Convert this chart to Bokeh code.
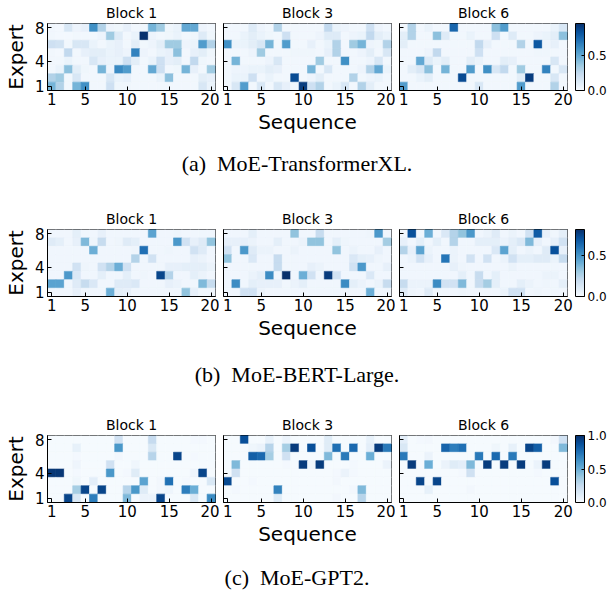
from bokeh.plotting import figure
from bokeh.models import (LinearColorMapper, ColorBar, FixedTicker, ColumnDataSource,
                          Div, Range1d, PrintfTickFormatter)
from bokeh.layouts import column, row
from bokeh.palettes import Blues256
from bokeh.transform import transform
from bokeh.embed import file_html
from bokeh.resources import INLINE

sequence = list(range(1, 21))
experts = [8, 7, 6, 5, 4, 3, 2, 1]   # rows below are listed top (expert 8) to bottom (expert 1)
x_ticks = [1, 5, 10, 15, 20]
y_ticks = [1, 4, 8]
block_titles = ["Block 1", "Block 3", "Block 6"]
captions = ["(a)&nbsp; MoE-TransformerXL.", "(b)&nbsp; MoE-BERT-Large.", "(c)&nbsp; MoE-GPT2."]
row_vmax = [0.95, 0.82, 1.0]
cb_ticks = [[0.0, 0.5], [0.0, 0.5], [0.0, 0.5, 1.0]]

# ---------------- MoE-TransformerXL ----------------
txl_block1 = [
    [0.03,0.02,0.15,0.05,0.08,0.60,0.30,0.05,0.04,0.08,0.03,0.04,0.45,0.35,0.04,0.06,0.50,0.50,0.05,0.03],
    [0.03,0.02,0.02,0.03,0.03,0.03,0.05,0.35,0.12,0.03,0.06,0.94,0.05,0.03,0.04,0.06,0.03,0.04,0.12,0.04],
    [0.20,0.18,0.03,0.15,0.15,0.06,0.03,0.06,0.08,0.03,0.10,0.03,0.05,0.10,0.35,0.35,0.05,0.06,0.55,0.30],
    [0.03,0.02,0.25,0.03,0.08,0.10,0.10,0.06,0.08,0.05,0.65,0.05,0.03,0.06,0.08,0.40,0.03,0.08,0.10,0.04],
    [0.03,0.03,0.06,0.03,0.03,0.15,0.08,0.06,0.06,0.20,0.10,0.03,0.06,0.20,0.08,0.10,0.03,0.25,0.04,0.03],
    [0.03,0.06,0.40,0.10,0.04,0.03,0.45,0.05,0.62,0.55,0.03,0.03,0.50,0.20,0.03,0.04,0.45,0.08,0.03,0.35],
    [0.30,0.35,0.03,0.15,0.03,0.03,0.03,0.15,0.06,0.08,0.03,0.03,0.03,0.06,0.40,0.03,0.03,0.03,0.10,0.08],
    [0.45,0.30,0.03,0.45,0.60,0.03,0.03,0.20,0.04,0.04,0.03,0.03,0.03,0.03,0.03,0.03,0.03,0.03,0.15,0.06],
]
txl_block3 = [
    [0.03,0.03,0.03,0.12,0.05,0.03,0.30,0.03,0.03,0.03,0.03,0.03,0.25,0.06,0.05,0.03,0.03,0.20,0.05,0.03],
    [0.03,0.03,0.06,0.10,0.06,0.04,0.03,0.20,0.03,0.03,0.03,0.05,0.12,0.12,0.03,0.05,0.06,0.25,0.10,0.06],
    [0.60,0.06,0.06,0.10,0.15,0.45,0.03,0.55,0.03,0.03,0.08,0.03,0.06,0.30,0.03,0.35,0.45,0.05,0.04,0.30],
    [0.03,0.03,0.03,0.05,0.35,0.03,0.03,0.03,0.04,0.04,0.04,0.03,0.08,0.30,0.03,0.03,0.05,0.10,0.03,0.15],
    [0.03,0.45,0.03,0.03,0.03,0.05,0.15,0.03,0.03,0.03,0.03,0.35,0.03,0.03,0.60,0.03,0.03,0.05,0.15,0.03],
    [0.03,0.05,0.05,0.06,0.06,0.10,0.08,0.03,0.03,0.03,0.45,0.03,0.15,0.03,0.03,0.03,0.05,0.30,0.50,0.06],
    [0.03,0.06,0.06,0.20,0.03,0.06,0.03,0.03,0.85,0.03,0.05,0.10,0.03,0.03,0.03,0.30,0.03,0.05,0.06,0.03],
    [0.03,0.15,0.55,0.03,0.15,0.03,0.15,0.08,0.03,0.90,0.20,0.30,0.03,0.06,0.15,0.03,0.30,0.10,0.03,0.03],
]
txl_block6 = [
    [0.03,0.30,0.03,0.06,0.03,0.03,0.75,0.03,0.03,0.03,0.03,0.40,0.55,0.03,0.03,0.03,0.03,0.03,0.06,0.15],
    [0.10,0.30,0.03,0.03,0.40,0.12,0.03,0.03,0.06,0.03,0.03,0.20,0.03,0.12,0.03,0.03,0.05,0.06,0.10,0.40],
    [0.10,0.03,0.03,0.03,0.03,0.03,0.03,0.03,0.03,0.25,0.08,0.03,0.03,0.03,0.30,0.03,0.80,0.05,0.08,0.03],
    [0.03,0.03,0.03,0.05,0.25,0.03,0.03,0.03,0.03,0.20,0.03,0.03,0.03,0.03,0.03,0.03,0.04,0.04,0.03,0.03],
    [0.03,0.03,0.50,0.12,0.06,0.10,0.03,0.03,0.10,0.06,0.03,0.03,0.10,0.08,0.03,0.03,0.03,0.03,0.15,0.03],
    [0.03,0.10,0.15,0.40,0.03,0.45,0.03,0.03,0.55,0.03,0.60,0.15,0.25,0.03,0.35,0.03,0.03,0.65,0.03,0.15],
    [0.03,0.03,0.06,0.10,0.03,0.03,0.03,0.85,0.03,0.03,0.03,0.03,0.03,0.03,0.10,0.90,0.03,0.03,0.15,0.03],
    [0.55,0.03,0.03,0.03,0.03,0.03,0.03,0.03,0.03,0.15,0.03,0.03,0.03,0.03,0.55,0.03,0.03,0.03,0.30,0.03],
]

# ---------------- MoE-BERT-Large ----------------
bert_block1 = [
    [0.03,0.03,0.03,0.08,0.03,0.03,0.07,0.03,0.03,0.03,0.03,0.03,0.45,0.03,0.03,0.04,0.03,0.03,0.03,0.03],
    [0.10,0.08,0.03,0.07,0.37,0.04,0.20,0.03,0.04,0.10,0.08,0.03,0.03,0.03,0.03,0.49,0.16,0.07,0.10,0.33],
    [0.03,0.03,0.03,0.03,0.03,0.41,0.03,0.03,0.03,0.03,0.04,0.62,0.03,0.03,0.04,0.03,0.03,0.16,0.10,0.03],
    [0.03,0.03,0.03,0.03,0.03,0.03,0.03,0.03,0.03,0.03,0.25,0.03,0.16,0.03,0.03,0.03,0.03,0.07,0.05,0.03],
    [0.03,0.03,0.03,0.16,0.04,0.03,0.16,0.25,0.41,0.16,0.03,0.03,0.03,0.03,0.07,0.07,0.08,0.08,0.08,0.05],
    [0.03,0.03,0.49,0.12,0.03,0.03,0.08,0.03,0.03,0.08,0.03,0.04,0.03,0.75,0.25,0.03,0.03,0.08,0.05,0.03],
    [0.45,0.45,0.03,0.10,0.20,0.12,0.03,0.03,0.10,0.10,0.12,0.03,0.03,0.03,0.07,0.05,0.03,0.03,0.37,0.20],
    [0.03,0.03,0.03,0.07,0.03,0.03,0.03,0.41,0.08,0.07,0.03,0.03,0.03,0.03,0.03,0.03,0.33,0.07,0.03,0.03],
]
bert_block3 = [
    [0.03,0.03,0.03,0.08,0.03,0.03,0.03,0.03,0.33,0.03,0.03,0.20,0.03,0.03,0.03,0.03,0.03,0.04,0.49,0.03],
    [0.07,0.07,0.07,0.05,0.03,0.03,0.08,0.03,0.03,0.05,0.33,0.33,0.03,0.08,0.04,0.03,0.03,0.03,0.03,0.29],
    [0.16,0.03,0.49,0.10,0.05,0.05,0.03,0.03,0.05,0.03,0.03,0.03,0.03,0.33,0.03,0.05,0.03,0.03,0.07,0.03],
    [0.33,0.03,0.03,0.12,0.03,0.03,0.20,0.03,0.03,0.03,0.03,0.03,0.03,0.03,0.03,0.12,0.08,0.07,0.04,0.03],
    [0.03,0.03,0.03,0.03,0.03,0.03,0.20,0.03,0.03,0.03,0.07,0.05,0.03,0.03,0.03,0.16,0.49,0.03,0.03,0.07],
    [0.03,0.03,0.03,0.05,0.08,0.53,0.03,0.82,0.03,0.41,0.16,0.03,0.78,0.16,0.03,0.03,0.03,0.12,0.03,0.03],
    [0.03,0.53,0.03,0.08,0.07,0.07,0.07,0.03,0.05,0.08,0.03,0.03,0.03,0.03,0.53,0.08,0.05,0.03,0.05,0.20],
    [0.03,0.03,0.16,0.16,0.05,0.03,0.03,0.03,0.03,0.03,0.03,0.03,0.03,0.03,0.03,0.03,0.03,0.41,0.03,0.03],
]
bert_block6 = [
    [0.03,0.72,0.03,0.41,0.03,0.12,0.25,0.33,0.49,0.03,0.05,0.10,0.03,0.05,0.03,0.16,0.68,0.07,0.03,0.08],
    [0.07,0.03,0.08,0.03,0.08,0.03,0.25,0.03,0.03,0.08,0.08,0.08,0.05,0.08,0.12,0.37,0.07,0.03,0.07,0.16],
    [0.25,0.07,0.45,0.05,0.03,0.03,0.05,0.03,0.03,0.03,0.03,0.12,0.45,0.08,0.03,0.05,0.03,0.10,0.72,0.07],
    [0.03,0.05,0.16,0.07,0.03,0.60,0.05,0.03,0.16,0.03,0.16,0.03,0.05,0.16,0.08,0.08,0.10,0.10,0.05,0.20],
    [0.03,0.03,0.03,0.03,0.03,0.03,0.07,0.04,0.03,0.03,0.03,0.03,0.03,0.05,0.03,0.03,0.03,0.03,0.03,0.03],
    [0.03,0.03,0.03,0.03,0.03,0.03,0.03,0.08,0.03,0.20,0.03,0.08,0.03,0.03,0.03,0.03,0.03,0.05,0.05,0.03],
    [0.20,0.05,0.05,0.05,0.53,0.16,0.16,0.37,0.03,0.20,0.29,0.08,0.03,0.03,0.08,0.05,0.03,0.04,0.03,0.08],
    [0.10,0.04,0.03,0.10,0.03,0.03,0.03,0.04,0.03,0.03,0.03,0.03,0.05,0.16,0.16,0.03,0.04,0.03,0.03,0.03],
]

# ---------------- MoE-GPT2 ----------------
gpt2_block1 = [
    [0.01,0.01,0.01,0.01,0.01,0.01,0.01,0.01,0.20,0.01,0.01,0.01,0.25,0.01,0.01,0.01,0.01,0.02,0.02,0.01],
    [0.01,0.01,0.01,0.08,0.01,0.01,0.01,0.01,0.60,0.01,0.01,0.01,0.15,0.01,0.01,0.01,0.01,0.01,0.01,0.01],
    [0.01,0.01,0.01,0.02,0.01,0.01,0.01,0.01,0.03,0.01,0.01,0.01,0.30,0.01,0.01,0.92,0.01,0.02,0.01,0.01],
    [0.01,0.01,0.01,0.05,0.01,0.01,0.01,0.20,0.01,0.01,0.04,0.01,0.01,0.01,0.01,0.01,0.01,0.01,0.01,0.01],
    [0.97,0.97,0.01,0.02,0.01,0.01,0.01,0.60,0.01,0.02,0.12,0.01,0.01,0.01,0.01,0.01,0.01,0.05,0.92,0.01],
    [0.01,0.01,0.01,0.04,0.01,0.10,0.01,0.01,0.01,0.01,0.01,0.55,0.01,0.03,0.75,0.01,0.02,0.01,0.01,0.15],
    [0.01,0.01,0.01,0.35,0.92,0.01,0.92,0.01,0.01,0.30,0.60,0.12,0.01,0.03,0.05,0.01,0.70,0.50,0.01,0.01],
    [0.01,0.01,0.92,0.15,0.01,0.70,0.01,0.01,0.01,0.45,0.01,0.06,0.06,0.92,0.01,0.01,0.01,0.15,0.01,0.65],
]
gpt2_block3 = [
    [0.01,0.01,0.88,0.01,0.01,0.08,0.01,0.06,0.01,0.01,0.01,0.01,0.12,0.01,0.01,0.01,0.01,0.08,0.01,0.01],
    [0.01,0.01,0.01,0.04,0.06,0.30,0.01,0.35,0.95,0.01,0.88,0.01,0.12,0.75,0.01,0.78,0.01,0.10,0.95,0.72],
    [0.01,0.01,0.01,0.82,0.78,0.35,0.01,0.20,0.01,0.01,0.01,0.01,0.45,0.01,0.72,0.01,0.01,0.50,0.01,0.01],
    [0.01,0.45,0.01,0.01,0.01,0.01,0.01,0.02,0.01,0.95,0.04,0.95,0.01,0.01,0.01,0.02,0.01,0.01,0.01,0.06],
    [0.01,0.20,0.01,0.01,0.01,0.01,0.01,0.01,0.01,0.01,0.01,0.01,0.01,0.02,0.06,0.02,0.01,0.01,0.01,0.01],
    [0.90,0.01,0.01,0.02,0.01,0.01,0.01,0.01,0.01,0.01,0.01,0.01,0.01,0.03,0.01,0.01,0.01,0.01,0.01,0.01],
    [0.01,0.02,0.01,0.01,0.01,0.01,0.68,0.01,0.01,0.01,0.01,0.01,0.01,0.01,0.01,0.03,0.45,0.01,0.01,0.01],
    [0.01,0.01,0.01,0.01,0.01,0.01,0.12,0.01,0.01,0.01,0.01,0.01,0.01,0.03,0.01,0.01,0.30,0.01,0.01,0.01],
]
gpt2_block6 = [
    [0.10,0.01,0.02,0.03,0.01,0.01,0.01,0.01,0.01,0.01,0.01,0.01,0.01,0.01,0.01,0.01,0.01,0.01,0.03,0.20],
    [0.15,0.01,0.01,0.01,0.01,0.80,0.70,0.75,0.01,0.01,0.01,0.04,0.01,0.08,0.01,0.92,0.82,0.01,0.01,0.45],
    [0.72,0.01,0.01,0.06,0.01,0.01,0.01,0.01,0.01,0.72,0.01,0.78,0.01,0.72,0.01,0.01,0.01,0.01,0.01,0.01],
    [0.01,0.95,0.01,0.50,0.01,0.06,0.12,0.10,0.45,0.01,0.95,0.01,0.95,0.01,0.95,0.01,0.06,0.95,0.01,0.01],
    [0.01,0.01,0.01,0.01,0.01,0.01,0.01,0.02,0.20,0.01,0.01,0.01,0.01,0.01,0.01,0.01,0.02,0.01,0.01,0.01],
    [0.01,0.01,0.92,0.01,0.92,0.01,0.01,0.01,0.01,0.01,0.01,0.01,0.01,0.01,0.01,0.01,0.01,0.01,0.88,0.01],
    [0.01,0.01,0.01,0.08,0.01,0.01,0.01,0.01,0.03,0.01,0.01,0.01,0.01,0.01,0.01,0.01,0.01,0.01,0.01,0.01],
    [0.01,0.01,0.01,0.01,0.01,0.01,0.01,0.01,0.01,0.01,0.01,0.01,0.01,0.01,0.01,0.01,0.01,0.01,0.01,0.01],
]

model_blocks = [
    [txl_block1, txl_block3, txl_block6],
    [bert_block1, bert_block3, bert_block6],
    [gpt2_block1, gpt2_block3, gpt2_block6],
]

PALETTE = list(reversed(Blues256))
FONT = "DejaVu Sans"
FRAME_W = 168
FRAME_H = 67


def heatmap(data, title, col, vmax, ticks):
    xs, ys, vs = [], [], []
    for i, expert in enumerate(experts):
        for j, seq in enumerate(sequence):
            xs.append(seq)
            ys.append(expert)
            vs.append(data[i][j])
    src = ColumnDataSource(dict(x=xs, y=ys, v=vs))
    mapper = LinearColorMapper(palette=PALETTE, low=0.0, high=vmax)

    left = 36 if col == 0 else 4
    right = 4
    p = figure(output_backend="svg", toolbar_location=None,
               frame_width=FRAME_W, frame_height=FRAME_H,
               x_range=Range1d(0.5, 20.5), y_range=Range1d(0.5, 8.5),
               min_border_left=left, min_border_right=right,
               min_border_top=0, min_border_bottom=44,
               title=title)
    p.rect(x="x", y="y", width=1, height=1, source=src,
           fill_color=transform("v", mapper), line_color=transform("v", mapper),
           line_width=0.6)

    p.title.text_font = FONT
    p.title.text_font_size = "14px"
    p.title.text_font_style = "normal"
    p.title.align = "center"
    p.title.text_color = "black"
    p.title.standoff = 5

    p.xgrid.visible = False
    p.ygrid.visible = False
    p.outline_line_color = "black"
    p.outline_line_alpha = 1.0
    p.background_fill_color = "white"
    p.border_fill_color = "white"

    for ax in (p.xaxis[0], p.yaxis[0]):
        ax.axis_line_color = "black"
        ax.major_tick_line_color = "black"
        ax.major_tick_in = 4
        ax.major_tick_out = 0
        ax.minor_tick_line_color = None
        ax.major_label_text_font = FONT
        ax.major_label_text_font_size = "15px"
        ax.major_label_text_color = "black"
        ax.axis_label_text_font = FONT
        ax.axis_label_text_font_size = "20px"
        ax.axis_label_text_font_style = "normal"
        ax.axis_label_text_color = "black"

    p.xaxis.ticker = FixedTicker(ticks=x_ticks)
    p.yaxis.ticker = FixedTicker(ticks=y_ticks)
    p.xaxis.major_label_standoff = 2
    p.xaxis.axis_label_standoff = 2
    if col == 1:
        p.xaxis.axis_label = "Sequence"
    if col == 0:
        p.yaxis.axis_label = "Expert"
        p.yaxis.major_label_standoff = 3
        p.yaxis.axis_label_standoff = 4
    else:
        p.yaxis.major_label_overrides = {t: "" for t in y_ticks}
        p.yaxis.major_label_standoff = 0

    if col == 2:
        cb = ColorBar(color_mapper=mapper, ticker=FixedTicker(ticks=ticks),
                      formatter=PrintfTickFormatter(format="%.1f"),
                      width=9, height=FRAME_H, margin=0, padding=0,
                      location=(8, 0),
                      major_label_text_font=FONT, major_label_text_font_size="12px",
                      major_label_text_color="black", label_standoff=3,
                      major_tick_line_color="black", major_tick_in=3, major_tick_out=0,
                      bar_line_color="black", border_line_color=None,
                      background_fill_alpha=0.0)
        p.add_layout(cb, "right")
    return p


def caption(text, height, pad):
    return Div(text=("<div style=\"width:594px; text-align:center; font-family:'Liberation Serif'; "
                     "font-size:22px; line-height:25px; color:black; padding-top:%dpx; "
                     "white-space:nowrap\">%s</div>" % (pad, text)),
               width=594, height=height, margin=0)


items = []
cap_heights = [(70, 15), (70, 20), (38, 17)]
for r, blocks in enumerate(model_blocks):
    figs = [heatmap(blocks[c], block_titles[c], c, row_vmax[r], cb_ticks[r]) for c in range(3)]
    items.append(row(*figs))
    h, pad = cap_heights[r]
    items.append(caption(captions[r], h, pad))

layout = column(*items)
open("out.html", "w").write(file_html(layout, INLINE))
